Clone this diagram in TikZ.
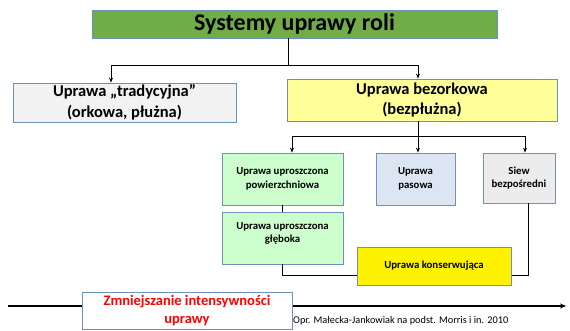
\documentclass[tikz,border=0pt]{standalone}
\usepackage{fontspec}
\setmainfont{Carlito}
\usetikzlibrary{arrows.meta}
\definecolor{bordc}{RGB}{110,145,185}
\definecolor{titlegreen}{RGB}{112,173,71}
\definecolor{lgray}{RGB}{242,242,242}
\definecolor{lyellow}{RGB}{255,255,153}
\definecolor{lgreen}{RGB}{204,255,204}
\definecolor{lblue}{RGB}{220,230,242}
\definecolor{sgray}{RGB}{236,236,236}
\definecolor{redtxt}{RGB}{255,0,0}
\tikzset{
  box/.style={draw=bordc, line width=0.8pt, inner sep=0pt, align=center, font=\bfseries},
  conn/.style={draw=black, line width=0.8pt},
  arr/.style={conn, -{Stealth[length=5pt,width=4pt]}},
  bigarr/.style={draw=black, line width=1.2pt, -{Stealth[length=6pt,width=5pt]}},
}
\begin{document}
\begin{tikzpicture}[x=1pt,y=-1pt]
\useasboundingbox (0,0) rectangle (570,331);
% nodes
\node[box, fill=titlegreen, minimum width=405pt, minimum height=28pt,
      font=\bfseries\fontsize{24}{28}\selectfont] (top) at (294.5,24) {Systemy uprawy roli};
\node[box, fill=lgray, minimum width=223pt, minimum height=39pt,
      font=\bfseries\fontsize{16.5}{20.5}\selectfont] (left) at (124.5,102.5) {Uprawa „tradycyjna”\\(orkowa, płużna)};
\node[box, fill=lyellow, minimum width=270pt, minimum height=42pt,
      font=\bfseries\fontsize{16.5}{20.5}\selectfont] (right) at (422,100) {Uprawa bezorkowa\\(bezpłużna)};
\node[box, fill=lgreen, minimum width=121pt, minimum height=52pt,
      font=\bfseries\fontsize{10.8}{13.5}\selectfont] (pow) at (282.5,179) {Uprawa uproszczona\\powierzchniowa};
\node[box, fill=lblue, minimum width=79pt, minimum height=52pt,
      font=\bfseries\fontsize{10.8}{13.5}\selectfont] (pas) at (415.5,179) {Uprawa\\pasowa};
\node[box, fill=sgray, minimum width=72pt, minimum height=50pt,
      font=\bfseries\fontsize{10.8}{12.5}\selectfont] (siew) at (519,178) {Siew\\bezpośredni};
\node[box, fill=lgreen, minimum width=121pt, minimum height=52pt] (gleb) at (282.5,238) {};
\node[font=\bfseries\fontsize{10.8}{13.5}\selectfont, align=center, inner sep=0pt] (glebtxt) at (282.5,233.5) {Uprawa uproszczona\\głęboka};
% connectors level 1
\draw[conn] ([xshift=-6.5pt]top.south) -- ++(0,27) coordinate (j1);
\draw[arr] (j1) -| ([xshift=-13.5pt]left.north);
\draw[arr] (j1) -| ([xshift=-4pt]right.north);
% connectors level 2
\draw[conn] ([xshift=-4pt]right.south) -- ++(0,15) coordinate (j2);
\draw[arr] (j2) -| ([xshift=9.5pt]pow.north);
\draw[arr] (j2) -- (j2 |- pas.north);
\draw[arr] (j2) -| ([xshift=6pt]siew.north);
\draw[conn] (pow.south) -- (gleb.north);
\draw[conn] (gleb.south) -- ++(0,10.5) -| ([xshift=9.5pt]siew.south);
\node[box, fill=yellow, minimum width=154pt, minimum height=38pt,
      font=\bfseries\fontsize{10.8}{13.5}\selectfont] (kons) at (434,266) {Uprawa konserwująca};
% bottom arrow
\coordinate (a0) at (8,306);
\coordinate (a1) at (566,306);
\draw[bigarr] (a0) -- (a1);
\node[box, fill=white, text=redtxt, minimum width=210pt, minimum height=37pt,
      font=\bfseries\fontsize{14.5}{18}\selectfont] (red) at (187,310.5) {Zmniejszanie intensywności\\uprawy};
\node[anchor=base west, inner sep=0pt, font=\fontsize{10.3}{12}\selectfont] (src) at (293,323) {Opr. Małecka-Jankowiak na podst. Morris i in. 2010};
\end{tikzpicture}
\end{document}
